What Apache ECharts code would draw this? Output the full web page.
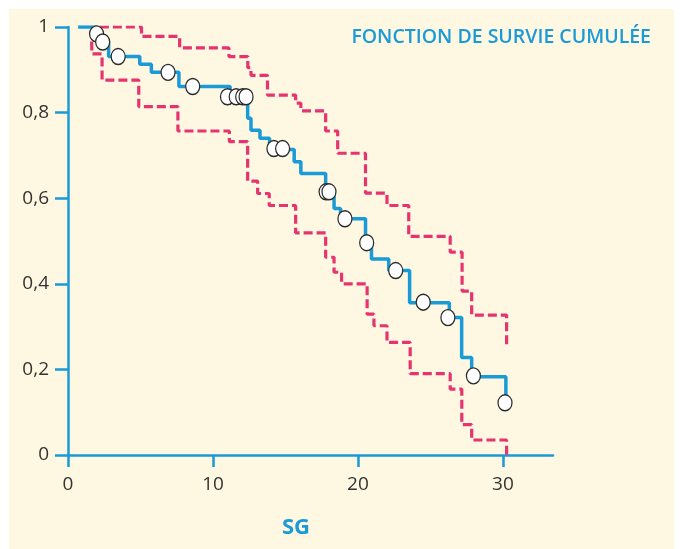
<!DOCTYPE html>
<html>
<head>
<meta charset="utf-8">
<script src="https://cdn.jsdelivr.net/npm/echarts@6/dist/echarts.min.js"></script>
<style>
html,body{margin:0;padding:0;background:#ffffff;}
#chart{width:680px;height:549px;}
</style>
</head>
<body>
<div id="chart"></div>
<script>
// Kaplan-Meier estimate (time at which level starts, level)
var kmTimes  = [0.7, 2.0, 2.8, 4.95, 5.75, 7.65, 11.18, 12.39, 12.62, 13.24, 13.9, 15.6, 16.06, 17.77, 18.35, 18.8, 20.52, 20.93, 22.12, 23.56, 26.3, 27.15, 27.84, 30.2];
var kmLevels = [1.0, 0.965, 0.931, 0.913, 0.894, 0.861, 0.837, 0.787, 0.759, 0.740, 0.714, 0.685, 0.658, 0.615, 0.576, 0.552, 0.496, 0.458, 0.431, 0.356, 0.321, 0.228, 0.183, 0.122];
// Upper confidence bound
var upTimes  = [2.2, 5.07, 7.7, 11.1, 12.4, 12.62, 13.76, 15.7, 16.06, 17.77, 18.6, 20.52, 22.0, 23.5, 26.36, 27.18, 27.84, 30.25];
var upLevels = [1.0, 0.978, 0.951, 0.931, 0.905, 0.887, 0.841, 0.822, 0.804, 0.757, 0.705, 0.612, 0.583, 0.511, 0.474, 0.383, 0.327, 0.251];
// Lower confidence bound
var loTimes  = [1.63, 1.65, 2.35, 4.88, 7.58, 11.13, 12.39, 13.08, 13.88, 15.7, 17.77, 18.35, 18.87, 20.63, 21.1, 22.0, 23.6, 26.36, 27.16, 27.84, 30.25];
var loLevels = [0.966, 0.937, 0.876, 0.814, 0.757, 0.732, 0.640, 0.611, 0.583, 0.519, 0.462, 0.427, 0.400, 0.329, 0.302, 0.263, 0.190, 0.154, 0.071, 0.035, 0.0];
// Censored observations
var censTimes  = [1.97, 2.39, 3.46, 6.9, 8.6, 11.0, 11.6, 12.05, 12.28, 14.2, 14.8, 17.8, 18.0, 19.1, 20.6, 22.6, 24.5, 26.2, 27.96, 30.14];
var censLevels = [0.984, 0.965, 0.931, 0.894, 0.861, 0.837, 0.837, 0.837, 0.837, 0.716, 0.716, 0.615, 0.615, 0.552, 0.496, 0.431, 0.357, 0.321, 0.185, 0.122];
// Axis ticks
var xTicks = [0, 10, 20, 30];
var yTicks = [0, 0.2, 0.4, 0.6, 0.8, 1];

function zip(a, b) { return a.map(function (v, i) { return [v, b[i]]; }); }

var BLUE = '#1a9ad7';
var RED = '#e5346f';
var chart = echarts.init(document.getElementById('chart'));
chart.setOption({
  animation: false,
  backgroundColor: '#ffffff',
  graphic: [
    { type: 'rect', z: -10, silent: true, shape: { x: 9, y: 9, width: 665, height: 540 }, style: { fill: '#fef7e1' } },
    { type: 'text', left: 282, top: 517, style: { text: 'SG', fill: BLUE, font: 'bold 22px "Open Sans", sans-serif' } }
  ],
  title: {
    text: 'FONCTION DE SURVIE CUMULÉE',
    right: 24, top: 22,
    textStyle: { color: BLUE, fontSize: 19.5, fontWeight: 600, fontFamily: '"Open Sans", sans-serif' }
  },
  grid: { left: 68, right: 127, top: 27, bottom: 94, containLabel: false },
  xAxis: {
    type: 'value', min: 0, max: 33.45, interval: 10,
    axisLine: { lineStyle: { color: BLUE, width: 2.5 } },
    axisTick: { length: 12, lineStyle: { color: BLUE, width: 2.5 } },
    splitLine: { show: false },
    axisLabel: {
      color: '#333', fontSize: 19, fontFamily: '"Open Sans", sans-serif', margin: 20,
      showMaxLabel: false,
      formatter: function (v) { return xTicks.indexOf(v) >= 0 ? String(v) : ''; }
    }
  },
  yAxis: {
    type: 'value', min: 0, max: 1, interval: 0.2,
    axisLine: { lineStyle: { color: BLUE, width: 2.5 } },
    axisTick: { length: 13, lineStyle: { color: BLUE, width: 2.5 } },
    splitLine: { show: false },
    axisLabel: {
      color: '#333', fontSize: 19, fontFamily: '"Open Sans", sans-serif', margin: 19,
      formatter: function (v) {
        var t = yTicks.filter(function (k) { return Math.abs(k - v) < 1e-6; })[0];
        if (t === undefined) return '';
        return (t === 0 || t === 1) ? String(t) : t.toFixed(1).replace('.', ',');
      }
    }
  },
  series: [
    { type: 'line', step: 'end', data: zip(upTimes, upLevels), showSymbol: false, z: 2,
      lineStyle: { color: RED, width: 3.2, type: [9, 4] } },
    { type: 'line', step: 'end', data: zip(loTimes, loLevels), showSymbol: false, z: 2,
      lineStyle: { color: RED, width: 3.2, type: [9, 4] } },
    { type: 'line', step: 'end', data: zip(kmTimes, kmLevels), showSymbol: false, z: 3,
      lineStyle: { color: BLUE, width: 3.5 } },
    { type: 'scatter', data: zip(censTimes, censLevels), z: 5, symbol: 'circle', symbolSize: [14, 16],
      itemStyle: { color: '#ffffff', borderColor: '#2a2a2a', borderWidth: 1.3, opacity: 1 } }
  ]
});
</script>
</body>
</html>
